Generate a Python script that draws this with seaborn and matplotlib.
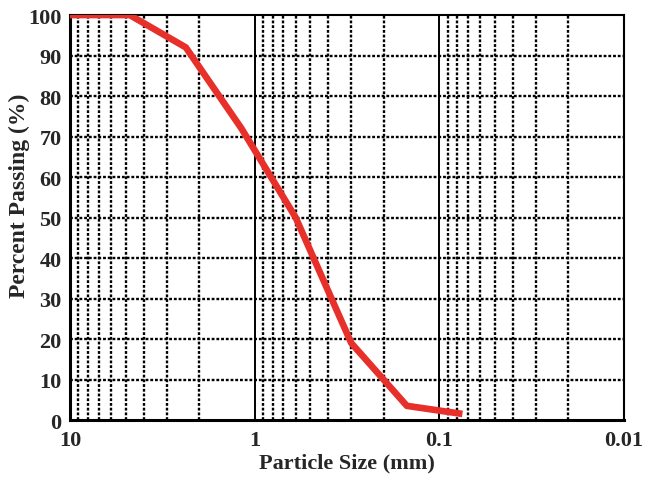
import matplotlib
matplotlib.use("Agg")
import matplotlib.pyplot as plt
import seaborn as sns
import numpy as np
import pandas as pd
from matplotlib.ticker import FixedLocator, FixedFormatter, NullFormatter, MultipleLocator

# Data
sizes_mm = [10, 4.75, 2.36, 1.18, 0.6, 0.3, 0.15, 0.075]
percent_passing = [100, 100, 92, 72, 50, 19, 3.5, 1.5]
x_tick_values = [10, 1, 0.1, 0.01]
x_tick_labels = ["10", "1", "0.1", "0.01"]
y_tick_values = [0, 10, 20, 30, 40, 50, 60, 70, 80, 90, 100]

df = pd.DataFrame({"size": sizes_mm, "passing": percent_passing})

sns.set_style("white")
plt.rcParams['font.family'] = ['Liberation Serif', 'DejaVu Serif']
plt.rcParams['font.weight'] = 'bold'

fig = plt.figure(figsize=(6.55, 4.81), dpi=100)
ax = fig.add_axes([0.1069, 0.1247, 0.8458, 0.842])

ax.set_xscale('log')
ax.set_xlim(10, 0.01)
ax.set_ylim(0, 100)

# grid: minor vertical dotted, decades solid, horizontal dotted
minor_x = [m * 10.0 ** e for e in (-2, -1, 0) for m in range(2, 10)]
dot = (0, (1.2, 0.8))
for xv in minor_x:
    ax.axvline(xv, color='black', lw=1.7, ls=dot, zorder=1)
for xv in x_tick_values[1:-1]:
    ax.axvline(xv, color='black', lw=1.4, zorder=1)
for yv in y_tick_values[1:-1]:
    ax.axhline(yv, color='black', lw=1.7, ls=dot, zorder=1)

sns.lineplot(data=df, x="size", y="passing", ax=ax, color='#e8302a', lw=4.8,
             zorder=3, sort=False, solid_capstyle='butt', solid_joinstyle='round')

ax.xaxis.set_major_locator(FixedLocator(x_tick_values))
ax.xaxis.set_major_formatter(FixedFormatter(x_tick_labels))
ax.xaxis.set_minor_locator(FixedLocator(minor_x))
ax.xaxis.set_minor_formatter(NullFormatter())
ax.tick_params(axis='x', which='both', length=0, labelsize=16, pad=7)

ax.yaxis.set_major_locator(FixedLocator(y_tick_values))
ax.yaxis.set_minor_locator(MultipleLocator(2))
ax.tick_params(axis='y', which='major', direction='in', length=0, labelsize=16, pad=6)
ax.tick_params(axis='y', which='minor', direction='in', length=3, width=1.2, color='black')

for lab in ax.get_xticklabels() + ax.get_yticklabels():
    lab.set_fontweight('bold')

for s in ax.spines.values():
    s.set_color('black')
    s.set_linewidth(1.5)
ax.spines['left'].set_linewidth(2.2)
ax.spines['bottom'].set_linewidth(2.2)

ax.set_xlabel("Particle Size (mm)", fontsize=16, fontweight='bold', labelpad=2)
ax.set_ylabel("Percent Passing (%)", fontsize=17, fontweight='bold')
ax.yaxis.set_label_coords(-0.072, 0.556)

fig.savefig("out.png", dpi=100)
